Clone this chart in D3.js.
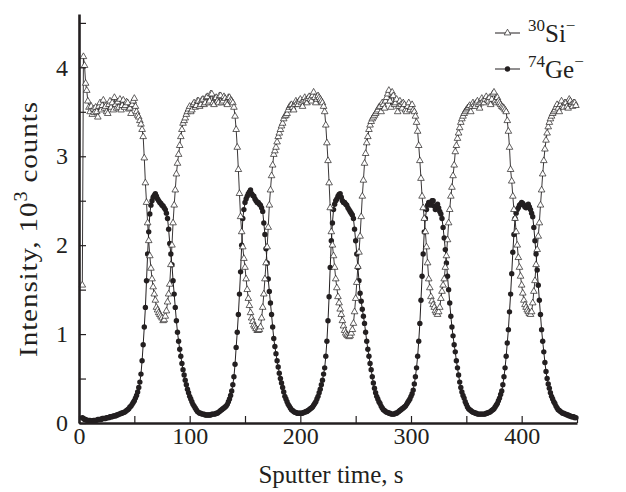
<!DOCTYPE html>
<html>
<head>
<meta charset="utf-8">
<script src="https://cdn.jsdelivr.net/npm/d3@7"></script>
<style>
    body { margin: 0; background: #fff; }
    #chart { width: 626px; height: 492px; }
    text { font-family: "Liberation Serif", "Times New Roman", serif; fill: #231f20; }
    .axis path.domain { stroke: #231f20; stroke-width: 2.6; }
    .axis line { stroke: #231f20; stroke-width: 1.2; }
    .axis text { font-size: 24px; }
</style>
</head>
<body>
<div id="chart"></div>
<script>

// sputter time, s (one reading per second)
const times = [3,4,5,6,7,8,9,
    10,11,12,13,14,15,16,17,18,19,20,21,22,23,24,25,26,27,28,29,30,31,32,33,34,35,36,37,38,39,
    40,41,42,43,44,45,46,47,48,49,50,51,52,53,54,55,56,57,58,59,60,61,62,63,64,65,66,67,68,69,
    70,71,72,73,74,75,76,77,78,79,80,81,82,83,84,85,86,87,88,89,90,91,92,93,94,95,96,97,98,99,
    100,101,102,103,104,105,106,107,108,109,110,111,112,113,114,115,116,117,118,119,120,121,122,123,124,125,126,127,128,129,
    130,131,132,133,134,135,136,137,138,139,140,141,142,143,144,145,146,147,148,149,150,151,152,153,154,155,156,157,158,159,
    160,161,162,163,164,165,166,167,168,169,170,171,172,173,174,175,176,177,178,179,180,181,182,183,184,185,186,187,188,189,
    190,191,192,193,194,195,196,197,198,199,200,201,202,203,204,205,206,207,208,209,210,211,212,213,214,215,216,217,218,219,
    220,221,222,223,224,225,226,227,228,229,230,231,232,233,234,235,236,237,238,239,240,241,242,243,244,245,246,247,248,249,
    250,251,252,253,254,255,256,257,258,259,260,261,262,263,264,265,266,267,268,269,270,271,272,273,274,275,276,277,278,279,
    280,281,282,283,284,285,286,287,288,289,290,291,292,293,294,295,296,297,298,299,300,301,302,303,304,305,306,307,308,309,
    310,311,312,313,314,315,316,317,318,319,320,321,322,323,324,325,326,327,328,329,330,331,332,333,334,335,336,337,338,339,
    340,341,342,343,344,345,346,347,348,349,350,351,352,353,354,355,356,357,358,359,360,361,362,363,364,365,366,367,368,369,
    370,371,372,373,374,375,376,377,378,379,380,381,382,383,384,385,386,387,388,389,390,391,392,393,394,395,396,397,398,399,
    400,401,402,403,404,405,406,407,408,409,410,411,412,413,414,415,416,417,418,419,420,421,422,423,424,425,426,427,428,429,
    430,431,432,433,434,435,436,437,438,439,440,441,442,443,444,445,446,447,448,449];

// 30Si- intensity, 10^3 counts
const si30 = [1.55,4.12,4.02,3.82,3.74,3.62,3.55,
    3.50,3.56,3.47,3.53,3.49,3.55,3.50,3.44,3.56,3.60, 3.52,3.57,3.63,3.54,3.56,3.50,3.48,3.58,3.62,3.55,
    3.60,3.52,3.66,3.58,3.54,3.61,3.55,3.64,3.52,3.57, 3.63,3.55,3.57,3.61,3.60,3.53,3.54,3.48,3.58,3.62,
    3.65,3.56,3.50,3.46,3.44,3.40,3.36,3.30,3.22,2.98, 2.70,2.48,2.25,2.05,1.88,1.74,1.62,1.53,1.45,1.38,
    1.30,1.27,1.24,1.22,1.20,1.18,1.15,1.16,1.20,1.26, 1.36,1.45,1.56,1.78,2.00,2.25,2.45,2.62,2.80,2.92,
    3.02,3.12,3.22,3.30,3.37,3.40,3.43,3.47,3.50,3.53, 3.56,3.50,3.52,3.58,3.60,3.55,3.57,3.62,3.62,3.56,
    3.58,3.63,3.64,3.58,3.60,3.66,3.67,3.60,3.62,3.70, 3.70,3.60,3.58,3.65,3.66,3.62,3.60,3.68,3.68,3.60,
    3.62,3.67,3.65,3.60,3.58,3.66,3.66,3.63,3.62,3.60, 3.55,3.45,3.30,3.10,2.85,2.58,2.32,2.15,1.98,1.85,
    1.75,1.62,1.50,1.40,1.32,1.24,1.18,1.14,1.10,1.08, 1.06,1.04,1.04,1.05,1.08,1.18,1.30,1.45,1.62,1.80,
    1.98,2.20,2.45,2.62,2.78,2.90,3.02,3.06,3.10,3.16, 3.22,3.26,3.30,3.34,3.37,3.42,3.45,3.46,3.48,3.52,
    3.55,3.57,3.58,3.55,3.52,3.58,3.62,3.60,3.58,3.62, 3.64,3.60,3.56,3.62,3.66,3.63,3.60,3.65,3.67,3.64,
    3.62,3.68,3.72,3.66,3.60,3.64,3.68,3.66,3.64,3.62, 3.60,3.56,3.50,3.35,3.15,2.95,2.70,2.42,2.15,2.00,
    1.88,1.75,1.62,1.52,1.42,1.35,1.28,1.22,1.15,1.09, 1.04,1.01,0.99,0.98,0.97,0.98,1.01,1.05,1.12,1.25,
    1.40,1.58,1.76,1.92,2.10,2.32,2.55,2.73,2.92,3.03, 3.15,3.22,3.30,3.35,3.39,3.42,3.44,3.46,3.48,3.50,
    3.52,3.55,3.56,3.50,3.60,3.58,3.54,3.62,3.66,3.70, 3.74,3.62,3.55,3.72,3.68,3.58,3.60,3.64,3.50,3.56,
    3.62,3.58,3.54,3.60,3.58,3.52,3.50,3.56,3.60,3.52, 3.55,3.58,3.52,3.50,3.45,3.38,3.28,3.12,2.95,2.75,
    2.55,2.42,2.30,2.15,1.98,1.80,1.62,1.52,1.42,1.37, 1.33,1.30,1.26,1.24,1.22,1.25,1.30,1.40,1.48,1.55,
    1.62,1.75,1.88,2.06,2.25,2.40,2.55,2.65,2.78,2.90, 3.05,3.12,3.20,3.26,3.32,3.38,3.42,3.45,3.48,3.50,
    3.52,3.54,3.55,3.57,3.50,3.56,3.60,3.58,3.56,3.60, 3.62,3.58,3.54,3.60,3.65,3.62,3.60,3.64,3.67,3.63,
    3.62,3.66,3.58,3.64,3.70,3.72,3.62,3.60,3.66,3.62, 3.60,3.58,3.56,3.55,3.54,3.52,3.50,3.40,3.28,3.10,
    2.85,2.72,2.55,2.40,2.30,2.15,2.00,1.86,1.75,1.65, 1.55,1.46,1.38,1.33,1.30,1.27,1.25,1.23,1.22,1.25,
    1.35,1.48,1.60,1.78,1.95,2.10,2.25,2.45,2.62,2.80, 2.95,3.08,3.18,3.26,3.33,3.38,3.42,3.45,3.48,3.50,
    3.52,3.55,3.58,3.54,3.50,3.58,3.62,3.56,3.55,3.60, 3.60,3.56,3.54,3.64,3.62,3.58,3.56,3.60,3.60,3.57];

// 74Ge- intensity, 10^3 counts
const ge74 = [0.06,0.05,0.04,0.04,0.03,0.03,0.03,
    0.03,0.02,0.02,0.03,0.03,0.03,0.03,0.04,0.04,0.04, 0.04,0.05,0.05,0.05,0.05,0.06,0.06,0.06,0.07,0.07,
    0.07,0.08,0.08,0.08,0.09,0.09,0.10,0.10,0.11,0.11, 0.12,0.12,0.13,0.14,0.15,0.16,0.18,0.19,0.21,0.23,
    0.25,0.28,0.31,0.35,0.40,0.46,0.55,0.70,0.88,1.08, 1.30,1.60,1.90,2.15,2.35,2.45,2.50,2.54,2.56,2.58,
    2.55,2.52,2.50,2.48,2.47,2.45,2.44,2.42,2.40,2.36, 2.30,2.18,2.02,1.90,1.78,1.60,1.45,1.30,1.15,1.02,
    0.92,0.83,0.75,0.67,0.60,0.54,0.48,0.43,0.38,0.34, 0.30,0.27,0.24,0.21,0.19,0.17,0.15,0.13,0.12,0.11,
    0.11,0.10,0.10,0.10,0.09,0.09,0.09,0.09,0.09,0.09, 0.10,0.10,0.10,0.10,0.11,0.11,0.12,0.13,0.14,0.15,
    0.16,0.17,0.18,0.19,0.21,0.24,0.27,0.31,0.36,0.43, 0.52,0.66,0.85,1.02,1.22,1.45,1.70,2.00,2.30,2.40,
    2.48,2.52,2.55,2.58,2.60,2.62,2.58,2.56,2.55,2.52, 2.50,2.48,2.48,2.46,2.45,2.42,2.38,2.25,2.12,1.96,
    1.80,1.62,1.48,1.35,1.22,1.08,0.95,0.86,0.78,0.70, 0.63,0.56,0.50,0.45,0.40,0.35,0.30,0.27,0.24,0.21,
    0.19,0.17,0.15,0.14,0.13,0.12,0.12,0.11,0.11,0.11, 0.11,0.11,0.11,0.12,0.12,0.13,0.13,0.14,0.15,0.16,
    0.17,0.18,0.20,0.22,0.24,0.27,0.30,0.34,0.38,0.43, 0.48,0.55,0.62,0.75,0.92,1.15,1.42,1.75,2.05,2.25,
    2.40,2.46,2.50,2.52,2.55,2.57,2.58,2.54,2.50,2.48, 2.48,2.46,2.45,2.42,2.40,2.38,2.36,2.34,2.30,2.18,
    2.05,1.90,1.75,1.60,1.46,1.37,1.28,1.20,1.12,1.02, 0.92,0.83,0.75,0.67,0.60,0.52,0.45,0.39,0.34,0.30,
    0.27,0.24,0.22,0.19,0.17,0.15,0.14,0.13,0.12,0.12, 0.11,0.11,0.10,0.10,0.10,0.10,0.11,0.11,0.12,0.13,
    0.14,0.15,0.16,0.17,0.18,0.19,0.21,0.23,0.25,0.27, 0.30,0.33,0.37,0.44,0.52,0.62,0.75,0.92,1.12,1.38,
    1.65,1.90,2.15,2.30,2.40,2.45,2.48,2.46,2.45,2.50, 2.50,2.44,2.40,2.43,2.46,2.42,2.38,2.35,2.30,2.20,
    2.08,1.95,1.80,1.65,1.50,1.35,1.20,1.08,0.98,0.88, 0.80,0.70,0.62,0.54,0.46,0.40,0.35,0.31,0.28,0.24,
    0.21,0.18,0.16,0.15,0.14,0.13,0.12,0.12,0.11,0.11, 0.10,0.10,0.10,0.10,0.10,0.10,0.10,0.10,0.11,0.11,
    0.12,0.12,0.13,0.14,0.15,0.16,0.18,0.20,0.22,0.25, 0.28,0.32,0.36,0.43,0.52,0.62,0.75,0.90,1.05,1.25,
    1.45,1.68,1.92,2.12,2.30,2.36,2.40,2.42,2.45,2.46, 2.48,2.47,2.45,2.43,2.42,2.44,2.46,2.43,2.40,2.36,
    2.32,2.20,2.05,1.90,1.72,1.55,1.38,1.22,1.05,0.92, 0.80,0.68,0.58,0.50,0.44,0.39,0.34,0.30,0.27,0.24,
    0.22,0.19,0.17,0.15,0.14,0.13,0.12,0.11,0.11,0.10, 0.10,0.09,0.09,0.08,0.08,0.07,0.07,0.07,0.06,0.06];

const xTicks = [0,50,100,150,200,250,300,350,400,450];
const yTicks = [0,0.5,1,1.5,2,2.5,3,3.5,4,4.5];

const margin = {top: 14, right: 49, bottom: 69, left: 79};
const width = 626 - margin.left - margin.right;
const height = 492 - margin.top - margin.bottom;

const svg = d3.select("#chart").append("svg")
    .attr("width", 626)
    .attr("height", 492);

const g = svg.append("g")
    .attr("transform", `translate(${margin.left}, ${margin.top})`);

// Scales and axes
const x = d3.scaleLinear().domain([0, 450]).range([0, width]);
const y = d3.scaleLinear().domain([0, 4.6]).range([height, 0]);

const xAxis = d3.axisBottom(x)
    .tickValues(xTicks)
    .tickSize(-7)
    .tickSizeOuter(0)
    .tickPadding(4)
    .tickFormat(d => d % 100 === 0 ? d : "");

const yAxis = d3.axisLeft(y)
    .tickValues(yTicks)
    .tickSize(-7)
    .tickSizeOuter(0)
    .tickPadding(11)
    .tickFormat(d => Number.isInteger(d) ? d : "");

const si = times.map((t, i) => ({t: t, v: si30[i]}));
const ge = times.map((t, i) => ({t: t, v: ge74[i]}));

const line = d3.line().x(d => x(d.t)).y(d => y(d.v));
const tri = d3.symbol().type(d3.symbolTriangle).size(19);

// Ge profile
g.append("path").datum(ge)
    .attr("d", line)
    .attr("fill", "none")
    .attr("stroke", "#231f20")
    .attr("stroke-width", 1);
g.selectAll(".ge").data(ge).enter().append("circle")
    .attr("class", "ge")
    .attr("cx", d => x(d.t))
    .attr("cy", d => y(d.v))
    .attr("r", 2.7)
    .attr("fill", "#231f20");

// Si profile
g.append("path").datum(si)
    .attr("d", line)
    .attr("fill", "none")
    .attr("stroke", "#231f20")
    .attr("stroke-width", 0.9);
g.selectAll(".si").data(si).enter().append("path")
    .attr("class", "si")
    .attr("d", tri)
    .attr("transform", d => `translate(${x(d.t)}, ${y(d.v)})`)
    .attr("fill", "#fff")
    .attr("stroke", "#231f20")
    .attr("stroke-width", 0.7);

g.append("g")
    .attr("class", "x-axis axis")
    .attr("transform", `translate(0, ${height})`)
    .call(xAxis);

g.append("g")
    .attr("class", "y-axis axis")
    .call(yAxis);

// axis titles
svg.append("text")
    .attr("x", 331)
    .attr("y", 483)
    .attr("text-anchor", "middle")
    .attr("font-size", 25)
    .text("Sputter time, s");

// long vertical title, a bit wider set than the tick labels
const yt = svg.append("text")
    .attr("transform", "translate(37, 229) rotate(-90) scale(1.12, 1)")
    .attr("text-anchor", "middle")
    .attr("font-size", 26)
    .attr("letter-spacing", 0.8);
yt.append("tspan").text("Intensity, 10");
yt.append("tspan").attr("font-size", 18).attr("dy", -10).text("3");
yt.append("tspan").attr("dy", 10).text(" counts");

// Legend
const legend = svg.append("g");
const legendRows = [
    {mass: "30", el: "Si", y: 33, marker: "tri"},
    {mass: "74", el: "Ge", y: 69, marker: "dot"}
];
legendRows.forEach(r => {
    legend.append("line")
        .attr("x1", 495).attr("x2", 520)
        .attr("y1", r.y).attr("y2", r.y)
        .attr("stroke", "#231f20").attr("stroke-width", 1);
    if (r.marker === "tri") {
        legend.append("path")
            .attr("d", tri)
            .attr("transform", `translate(507.5, ${r.y})`)
            .attr("fill", "#fff").attr("stroke", "#231f20").attr("stroke-width", 0.7);
    } else {
        legend.append("circle")
            .attr("cx", 507.5).attr("cy", r.y).attr("r", 2.7).attr("fill", "#231f20");
    }
    const t = legend.append("text")
        .attr("x", 528)
        .attr("y", r.y + 8.5)
        .attr("font-size", 25);
    t.append("tspan").attr("font-size", 17).attr("dy", -11).text(r.mass);
    t.append("tspan").attr("dy", 11).text(r.el);
    t.append("tspan").attr("font-size", 17).attr("dy", -11).text("\u2212");
});

</script>
</body>
</html>
